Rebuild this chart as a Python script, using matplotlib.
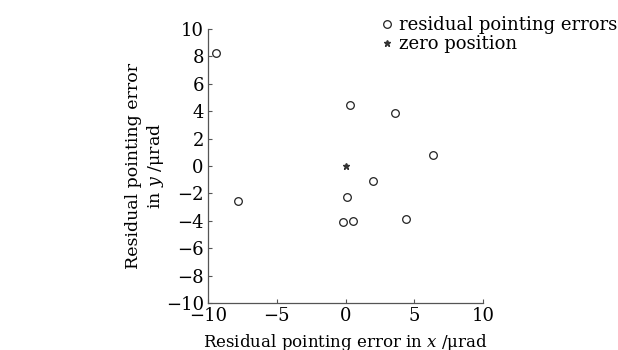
import matplotlib.pyplot as plt

plt.rcParams['font.family'] = ['DejaVu Serif']
plt.rcParams['mathtext.fontset'] = 'dejavuserif'

# residual pointing errors (urad)
err_x = [-9.4, -7.8, 0.36, 3.58, 6.37, 2.0, 0.12, -0.17, 0.53, 4.4]
err_y = [8.27, -2.55, 4.43, 3.89, 0.78, -1.07, -2.24, -4.11, -4.01, -3.89]
zero_x = [0.0]
zero_y = [0.0]

fig = plt.figure(figsize=(6.18, 3.5), dpi=100)
ax = fig.add_axes([0.3366, 0.1343, 0.445, 0.783])

ax.plot(err_x, err_y, linestyle='none', marker='o', markersize=5.5,
        markerfacecolor='none', markeredgecolor='#222222', markeredgewidth=0.9,
        label='residual pointing errors')
ax.plot(zero_x, zero_y, linestyle='none', marker='*', markersize=5,
        color='#333333', label='zero position')

ax.set_xlim(-10, 10)
ax.set_ylim(-10, 10)
ax.set_xticks([-10, -5, 0, 5, 10])
ax.set_yticks(range(-10, 11, 2))
ax.set_xticklabels(['\u221210', '\u22125', '0', '5', '10'])
ax.set_yticklabels(['\u221210', '\u22128', '\u22126', '\u22124', '\u22122', '0',
                    '2', '4', '6', '8', '10'])

for s in ['top', 'right']:
    ax.spines[s].set_visible(False)
for s in ['left', 'bottom']:
    ax.spines[s].set_color('#555555')
    ax.spines[s].set_linewidth(0.9)
ax.tick_params(direction='in', length=3, width=0.8, color='#555555',
               labelsize=13, pad=3)

ax.set_xlabel('Residual pointing error in $x$ /\u03bcrad', fontsize=12, labelpad=5)
ax.set_ylabel('Residual pointing error\nin $y$ /\u03bcrad', fontsize=12.5,
              linespacing=1.2, labelpad=0)

fig.legend(loc='upper left', bbox_to_anchor=(0.605, 0.975), frameon=False,
           fontsize=13, handlelength=0.6, handletextpad=0.4,
           labelspacing=0.05, borderaxespad=0)

fig.savefig('out.png', dpi=100)
